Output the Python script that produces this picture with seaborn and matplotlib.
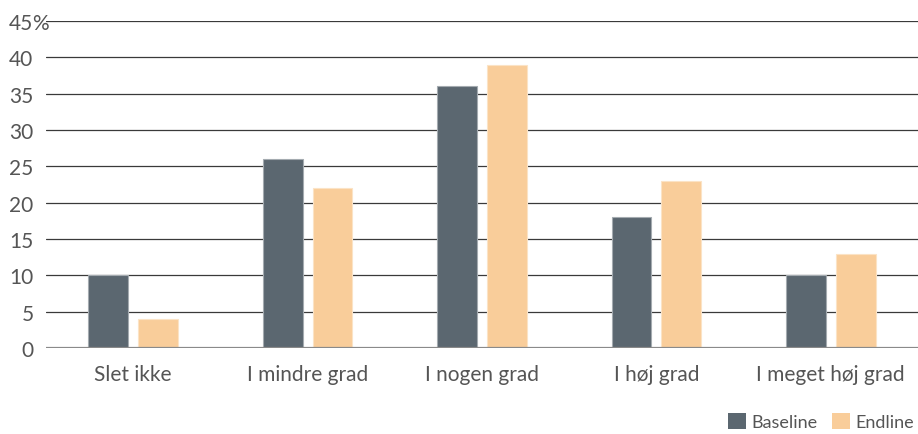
import matplotlib
matplotlib.use("Agg")
import matplotlib.pyplot as plt
import matplotlib.transforms as mtransforms
from matplotlib.patches import Patch
import seaborn as sns
import pandas as pd

categories = ["Slet ikke", "I mindre grad", "I nogen grad", "I høj grad", "I meget høj grad"]
baseline = [10, 26, 36, 18, 10]
endline = [4, 22, 39, 23, 13]
series_names = ["Baseline", "Endline"]
y_ticks = [0, 5, 10, 15, 20, 25, 30, 35, 40, 45]

colors = {"Baseline": "#5b6770", "Endline": "#f9cd9a"}
edge_colors = {"Baseline": "#a4abb0", "Endline": "#fbe3c6"}
text_color = "#555555"

df = pd.DataFrame({
    "Kategori": categories * 2,
    "Andel": baseline + endline,
    "Serie": [series_names[0]] * len(categories) + [series_names[1]] * len(categories),
})

sns.set_theme(style="white")
plt.rcParams["font.family"] = ["Lato", "DejaVu Sans"]

fig = plt.figure(figsize=(9.18, 4.35), dpi=100)
ax = fig.add_axes([46 / 918, 1 - 349 / 435, 1 - 46 / 918, (349 - 22) / 435])

sns.barplot(data=df, x="Kategori", y="Andel", hue="Serie", order=categories,
            hue_order=series_names, palette=colors, width=0.57, gap=0.2,
            saturation=1, legend=False, ax=ax, zorder=3)

for container, name in zip(ax.containers, series_names):
    for bar in container:
        bar.set_edgecolor(edge_colors[name])
        bar.set_linewidth(0.8)

ax.set_xlim(-0.5, len(categories) - 0.5)
ax.set_ylim(0, 45)
ax.set_yticks(y_ticks)
ax.set_yticklabels([str(t) for t in y_ticks], fontsize=15, color=text_color)
ax.tick_params(axis="y", length=0, pad=9.0)
ax.tick_params(axis="x", length=0, pad=11.5, labelsize=15, labelcolor=text_color)

for t in y_ticks[1:]:
    ax.axhline(t, color="#3a3a3a", lw=0.9, zorder=1)
ax.axhline(0, color="#8a8a8a", lw=1.6, zorder=4)

for side in ["top", "right", "left", "bottom"]:
    ax.spines[side].set_visible(False)
ax.set_xlabel("")
ax.set_ylabel("")

# percent sign appended to the top tick label
trans = mtransforms.blended_transform_factory(fig.transFigure, ax.transData)
ax.text(32 / 918, 45, "%", transform=trans, ha="left", va="center_baseline",
        fontsize=15, color=text_color, zorder=5)

handles = [Patch(facecolor=colors[n], edgecolor="none", label=n) for n in series_names]
fig.legend(handles=handles, loc="lower right", bbox_to_anchor=(1.007, -0.014), ncol=2,
           frameon=False, handlelength=1.0, handleheight=1.0,
           handletextpad=0.3, columnspacing=0.8, labelcolor=text_color,
           borderaxespad=0.15, prop={"size": 13})

fig.savefig("out.png", dpi=100)
